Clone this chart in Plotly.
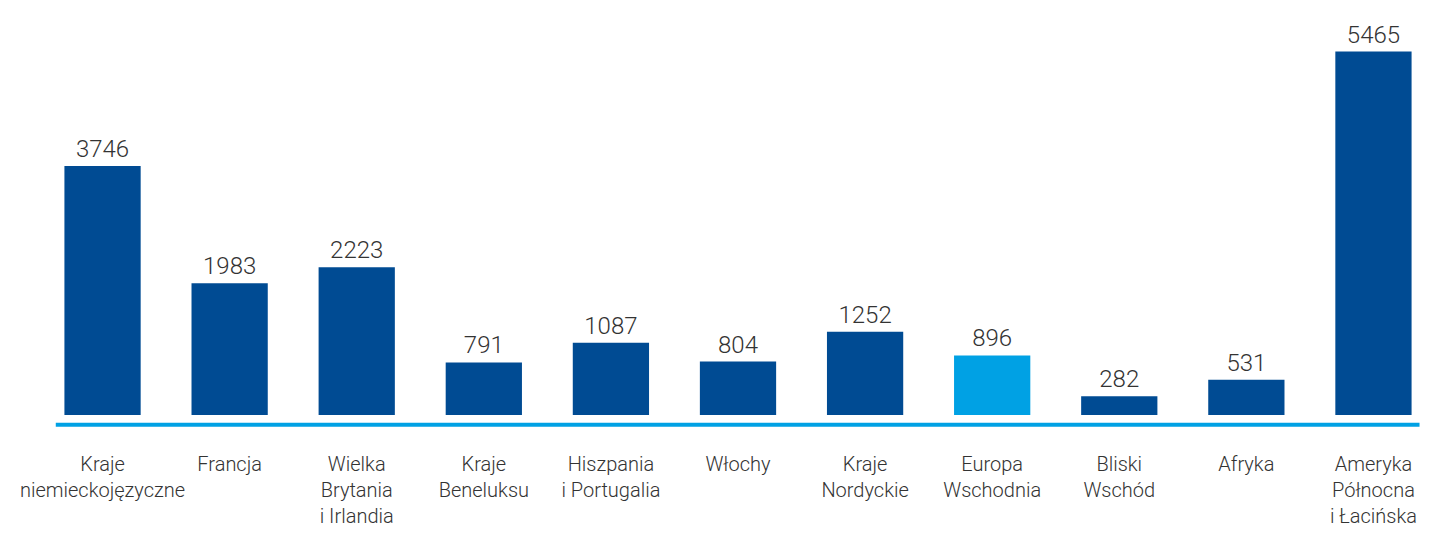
import plotly.graph_objects as go

FONT = "Roboto"
DARK_BLUE = "#004b93"
LIGHT_BLUE = "#00a1e4"

categories = [
    "Kraje<br>niemieckojęzyczne",
    "Francja",
    "Wielka<br>Brytania<br>i Irlandia",
    "Kraje<br>Beneluksu",
    "Hiszpania<br>i Portugalia",
    "Włochy",
    "Kraje<br>Nordyckie",
    "Europa<br>Wschodnia",
    "Bliski<br>Wschód",
    "Afryka",
    "Ameryka<br>Północna<br>i Łacińska",
]
values = [3746, 1983, 2223, 791, 1087, 804, 1252, 896, 282, 531, 5465]
highlight = "Europa<br>Wschodnia"

bar_colors = [LIGHT_BLUE if c == highlight else DARK_BLUE for c in categories]

fig = go.Figure(
    go.Bar(
        x=list(range(len(categories))),
        y=values,
        marker=dict(color=bar_colors, line=dict(width=0)),
        text=[str(v) for v in values],
        textposition="outside",
        cliponaxis=False,
        textfont=dict(family=FONT, size=24, color="#333333", weight=300),
    )
)

# light blue base line under the bars
fig.add_shape(
    type="line", xref="paper", yref="y",
    x0=0.012, x1=0.9875, y0=-146, y1=-146,
    line=dict(color=LIGHT_BLUE, width=4),
)

# page body adds 8px offset, so margins are shifted to compensate
fig.update_layout(
    width=1444,
    height=548,
    margin=dict(l=28, r=15, t=12, b=129),
    paper_bgcolor="white",
    plot_bgcolor="white",
    bargap=0.4,
    showlegend=False,
    xaxis=dict(
        tickmode="array",
        tickvals=list(range(len(categories))),
        ticktext=categories,
        range=[-0.5, len(categories) - 0.5],
        showgrid=False,
        zeroline=False,
        showline=False,
        ticks="",
        ticklabelstandoff=23,
        tickfont=dict(family=FONT, size=20, color="#333333", weight=300),
    ),
    yaxis=dict(
        range=[-180, 5940],
        visible=False,
        showgrid=False,
        zeroline=False,
    ),
)

fig.write_html("out.html")
